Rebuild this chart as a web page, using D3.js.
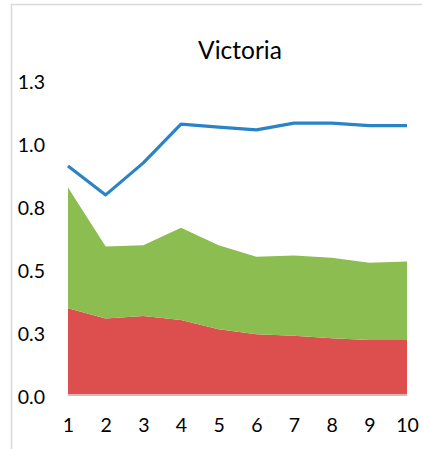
<!DOCTYPE html>
<html><head><meta charset="utf-8">
<script src="https://cdn.jsdelivr.net/npm/d3@7/dist/d3.min.js"></script>
<style>body{margin:0;background:#fff}svg{display:block}text{font-family:Lato,"Open Sans",sans-serif;fill:#000}</style>
</head><body><svg id="c" width="422" height="449"></svg>
<script>
const categories = [1,2,3,4,5,6,7,8,9,10];
const redValues = [0.348,0.308,0.317,0.302,0.265,0.245,0.239,0.229,0.222,0.222];
const greenValues = [0.479,0.285,0.281,0.366,0.333,0.308,0.319,0.320,0.307,0.312];
const blueValues = [0.913,0.798,0.925,1.079,1.067,1.056,1.083,1.083,1.073,1.073];
const yTicks = [0,0.25,0.5,0.75,1.0,1.25];
const yTickLabels = ["0.0","0.3","0.5","0.8","1.0","1.3"];
const title = "Victoria";

const svg = d3.select("#c");
svg.append("path").attr("d","M11.5,449 V4.5 H422").attr("fill","none").attr("stroke","#d9d9d9").attr("stroke-width",1.5);

const x = d3.scaleLinear().domain([1,10]).range([68,407]);
const y = d3.scaleLinear().domain([0,1.25]).range([396,81]);

const rows = categories.map((c,i)=>({c, red:redValues[i], green:greenValues[i]}));
const stack = d3.stack().keys(["red","green"])(rows);
const colors = {red:"#dd4f4e", green:"#8cbd50"};
const area = d3.area().x(d=>x(d.data.c)).y0(d=>y(d[0])).y1(d=>y(d[1]));
svg.selectAll("path.a").data(stack).enter().append("path").attr("class","a")
  .attr("d",area).attr("fill",d=>colors[d.key]);

svg.append("line").attr("x1",x(1)).attr("x2",x(10)).attr("y1",y(0)-1).attr("y2",y(0)-1)
  .attr("stroke","#d9d9d9").attr("stroke-width",1.5);

svg.append("path").datum(categories.map((c,i)=>[c,blueValues[i]]))
  .attr("d",d3.line().x(d=>x(d[0])).y(d=>y(d[1])))
  .attr("fill","none").attr("stroke","#2a83c6").attr("stroke-width",3.2).attr("stroke-linejoin","round");

const yAxis = d3.axisLeft(y).tickValues(yTicks).tickFormat((d,i)=>yTickLabels[i]).tickSize(0).tickPadding(0);
const gy = svg.append("g").attr("transform","translate(45,0)").call(yAxis);
gy.select(".domain").remove();
gy.selectAll("text").attr("font-size",19.5).attr("font-family","Lato,'Open Sans',sans-serif").attr("fill","#000").attr("dy","0.36em");

const xAxis = d3.axisBottom(x).tickValues(categories).tickFormat(d3.format("d")).tickSize(0).tickPadding(0);
const gx = svg.append("g").attr("transform","translate(0,418)").call(xAxis);
gx.select(".domain").remove();
gx.selectAll("text").attr("font-size",19.5).attr("font-family","Lato,'Open Sans',sans-serif").attr("fill","#000");

svg.append("text").attr("x",240).attr("y",59).attr("text-anchor","middle").attr("font-size",24.5).text(title);
</script></body></html>
